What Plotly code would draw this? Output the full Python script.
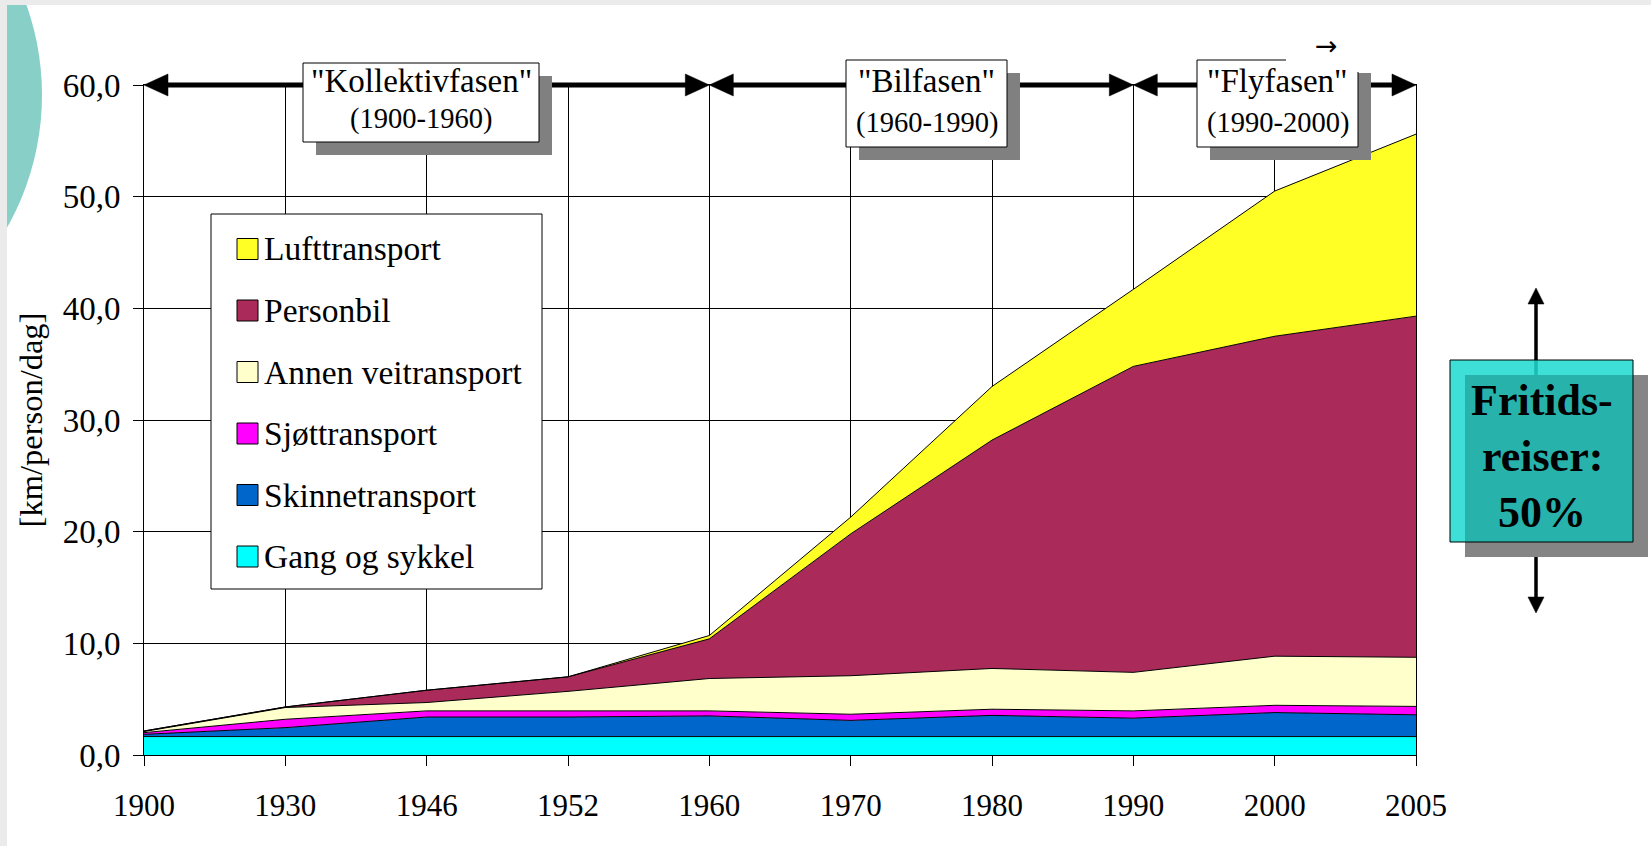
import plotly.graph_objects as go

# ---------------- data ----------------
years = ["1900", "1930", "1946", "1952", "1960", "1970", "1980", "1990", "2000", "2005"]
gang_og_sykkel = [1.65, 1.65, 1.65, 1.65, 1.65, 1.65, 1.65, 1.65, 1.65, 1.65]
skinnetransport = [0.20, 0.80, 1.75, 1.75, 1.85, 1.45, 1.90, 1.65, 2.15, 1.95]
sjottransport = [0.15, 0.75, 0.55, 0.55, 0.45, 0.55, 0.55, 0.65, 0.65, 0.75]
annen_veitransport = [0.10, 1.05, 0.75, 1.75, 2.90, 3.45, 3.65, 3.45, 4.40, 4.40]
personbil = [0.05, 0.05, 1.10, 1.30, 3.55, 12.70, 20.45, 27.40, 28.65, 30.55]
lufttransport = [0.00, 0.00, 0.00, 0.00, 0.30, 1.50, 4.80, 6.90, 13.00, 16.30]

series_names = ["Gang og sykkel", "Skinnetransport", "Sjøttransport",
                "Annen veitransport", "Personbil", "Lufttransport"]
series_values = [gang_og_sykkel, skinnetransport, sjottransport,
                 annen_veitransport, personbil, lufttransport]
series_colors = ["#00FFFF", "#0066CC", "#FF00FF", "#FFFFCC", "#AA2B5A", "#FFFF26"]

y_ticks = [0, 10, 20, 30, 40, 50, 60]
y_ticktext = ["0,0", "10,0", "20,0", "30,0", "40,0", "50,0", "60,0"]

phases = [  # (label, period, from-year, to-year)
    ('"Kollektivfasen"', "(1900-1960)", "1900", "1960"),
    ('"Bilfasen"', "(1960-1990)", "1960", "1990"),
    ('"Flyfasen"', "(1990-2000)", "1990", "2005"),
]
fritid_lines = ["Fritids-", "reiser:", "50%"]

# ---------------- geometry helpers ----------------
FIG_W, FIG_H = 1651, 846
L, R, T, B = 144, 1416, 85, 755
SERIF = "Liberation Serif, Times New Roman, serif"


def fx(px):
    return (px - L) / (R - L)


def fy(py):
    return (B - py) / (B - T)


def cat_px(year):
    return L + years.index(year) / (len(years) - 1) * (R - L)


def val_py(v):
    return B - v / y_ticks[-1] * (B - T)


def rect(x0, y0, x1, y1, fill, line=None, lw=1, opacity=1.0):
    return dict(type="rect", xref="paper", yref="paper", layer="above",
                x0=fx(x0), x1=fx(x1), y0=fy(y1), y1=fy(y0),
                fillcolor=fill, opacity=opacity,
                line=dict(color=line if line else "rgba(0,0,0,0)", width=lw if line else 0))


def tri(points, color="black"):
    p = "M " + " L ".join(f"{fx(a):.5f},{fy(b):.5f}" for a, b in points) + " Z"
    return dict(type="path", xref="paper", yref="paper", layer="above", path=p,
                fillcolor=color, line=dict(color=color, width=0.5))


def seg(x0, y0, x1, y1, w, color="black"):
    return dict(type="line", xref="paper", yref="paper", layer="above",
                x0=fx(x0), x1=fx(x1), y0=fy(y0), y1=fy(y1),
                line=dict(color=color, width=w))


def text(x, y, s, size, bold=False, color="black", xanchor="center", family=SERIF):
    return dict(xref="paper", yref="paper", x=fx(x), y=fy(y), text=f"<b>{s}</b>" if bold else s,
                showarrow=False, xanchor=xanchor, yanchor="middle",
                font=dict(family=family, size=size, color=color))


fig = go.Figure()
for name, vals, col in zip(series_names, series_values, series_colors):
    fig.add_trace(go.Scatter(x=years, y=vals, name=name, mode="lines",
                             stackgroup="one", fillcolor=col,
                             line=dict(color="black", width=1), showlegend=False))

shapes = []
annotations = []

# ---- page decoration (slide background) ----
shapes.append(dict(type="circle", xref="paper", yref="paper", layer="below",
                   x0=fx(-227 - 269), x1=fx(-227 + 269), y0=fy(95 + 269), y1=fy(95 - 269),
                   fillcolor="#88CFC8", line=dict(width=0)))
shapes.append(rect(0, 0, FIG_W, 5, "#EBEBEB"))
shapes.append(rect(0, 0, 7, FIG_H, "#EBEBEB"))

# ---- legend (manual, boxed) ----
shapes.append(rect(211, 214, 542, 589, "white", "black", 1))
legend_order = list(range(len(series_names)))[::-1]
for k, i in enumerate(legend_order):
    cy = 249 + k * 61.5
    shapes.append(rect(237, cy - 10.5, 258, cy + 10.5, series_colors[i], "black", 1))
    annotations.append(text(262, cy, series_names[i], 33.5, xanchor="left"))

# ---- phase arrows on the 60-line ----
ay = val_py(y_ticks[-1])
HL, HH = 24, 11
for _, _, a, b in phases:
    xa, xb = cat_px(a), cat_px(b)
    shapes.append(seg(xa + HL - 2, ay, xb - HL + 2, ay, 5))
    shapes.append(tri([(xa, ay), (xa + HL, ay - HH), (xa + HL, ay + HH)]))
    shapes.append(tri([(xb, ay), (xb - HL, ay - HH), (xb - HL, ay + HH)]))

# ---- phase boxes ----
boxes = [(303, 63, 539, 142, 81, 119), (846, 60, 1007, 147, 81, 123), (1197, 60, 1358, 147, 81, 123)]
for (label, period, _, _), (x0, y0, x1, y1, ty, sy) in zip(phases, boxes):
    shapes.append(rect(x0 + 13, y0 + 13, x1 + 13, y1 + 13, "#808080"))
    shapes.append(rect(x0, y0, x1, y1, "white", "black", 1))
    annotations.append(text((x0 + x1) / 2, ty, label, 33))
    annotations.append(text((x0 + x1) / 2, sy, period, 28.5))
# white patch with small arrow glyph over the last box (as in the source slide)
shapes.append(rect(1286, 50, 1372, 72, "white"))
annotations.append(text(1326, 45, "→", 27, family="DejaVu Sans"))

# ---- "Fritidsreiser" box with vertical double arrow ----
ax_ = 1536
shapes.append(seg(ax_, 300, ax_, 600, 3.5))
shapes.append(tri([(ax_, 288), (ax_ - 8, 304), (ax_ + 8, 304)]))
shapes.append(tri([(ax_, 613), (ax_ - 8, 597), (ax_ + 8, 597)]))
bx0, by0, bx1, by1 = 1450, 360, 1633, 542
shapes.append(rect(bx0 + 15, by0 + 15, bx1 + 15, by1 + 15, "#858585"))
shapes.append(rect(bx0, by0, bx1, by1, "#1EDAD0", opacity=0.86))
shapes.append(rect(bx0 + 15, by0 + 15, bx1, by1, "rgba(0,0,0,0.13)"))
shapes.append(rect(bx0, by0, bx1, by1, "rgba(0,0,0,0)", "black", 1))
for k, s in enumerate(fritid_lines):
    annotations.append(text(1542, 400 + k * 56, s, 44, bold=True))

fig.update_layout(
    width=FIG_W, height=FIG_H,
    margin=dict(l=L, r=FIG_W - R, t=T, b=FIG_H - B, autoexpand=False),
    paper_bgcolor="white", plot_bgcolor="white",
    font=dict(family=SERIF, size=31, color="black"),
    showlegend=False,
    shapes=shapes, annotations=annotations,
    xaxis=dict(type="category", range=[0, len(years) - 1],
               showgrid=True, gridcolor="black", gridwidth=1,
               showline=True, linecolor="black", linewidth=1, mirror=True,
               ticks="outside", ticklen=10, tickcolor="black",
               tickfont=dict(family=SERIF, size=31, color="black"),
               ticklabelstandoff=13, fixedrange=True),
    yaxis=dict(range=[y_ticks[0], y_ticks[-1]], tickvals=y_ticks, ticktext=y_ticktext,
               showgrid=True, gridcolor="black", gridwidth=1, zeroline=False,
               showline=True, linecolor="black", linewidth=1, mirror=True,
               ticks="outside", ticklen=10, tickcolor="black",
               tickfont=dict(family=SERIF, size=33, color="black"),
               ticklabelstandoff=6,
               title=dict(text="[km/person/dag]", font=dict(family=SERIF, size=32.5), standoff=10),
               fixedrange=True),
)

fig.write_html("out.html", config={"displayModeBar": False},
               post_script="document.body.style.margin='0';document.body.style.overflow='hidden';")
